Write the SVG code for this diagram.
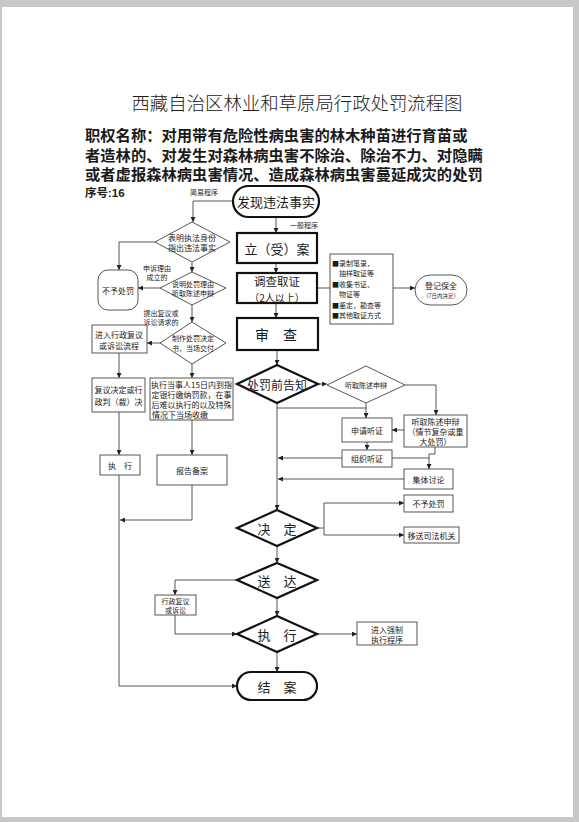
<svg xmlns="http://www.w3.org/2000/svg" width="579" height="822" viewBox="0 0 579 822">
<defs>
<marker id="arr" viewBox="0 0 10 10" refX="10" refY="5" markerWidth="5" markerHeight="5" markerUnits="userSpaceOnUse" orient="auto">
<path d="M0,0 L10,5 L0,10 z" fill="#222"/>
</marker>
</defs>
<style>
text{font-family:"Noto Sans CJK SC","Noto Sans",sans-serif;fill:#1a1a1a;text-anchor:middle;dominant-baseline:central}
.thick{fill:#fff;stroke:#111;stroke-width:2.2}
.thin{fill:#fff;stroke:#444;stroke-width:0.9}
.con path{fill:none;stroke:#444;stroke-width:0.9}
.con .a{marker-end:url(#arr)}
.s7{font-size:7px}
.s8{font-size:8px}
.s13{font-size:13px}
.hd{font-family:"Liberation Sans","Noto Sans CJK SC",sans-serif;font-weight:bold;text-anchor:start;dominant-baseline:auto}
</style>
<rect x="0" y="0" width="579" height="822" fill="#c8c8c8"/>
<rect x="2" y="7" width="571" height="810" fill="#fff"/>

<g id="title">
<text x="297" y="102" style="font-size:18.4px;font-weight:300">西藏自治区林业和草原局行政处罚流程图</text>
<text class="hd" style="font-size:15.3px"><tspan x="85" y="141">职权名称：对用带有危险性病虫害的林木种苗进行育苗或</tspan><tspan x="85" y="160.5">者造林的、对发生对森林病虫害不除治、除治不力、对隐瞒</tspan><tspan x="85" y="180">或者虚报森林病虫害情况、造成森林病虫害蔓延成灾的处罚</tspan></text>
<text class="hd" x="85" y="197" style="font-size:11.5px">序号:16</text>
</g>

<g class="con">
<path class="a" d="M233,201 H193 V222"/>
<path class="a" d="M276,217 V233"/>
<path class="a" d="M276,263 V273"/>
<path class="a" d="M276,303 V318"/>
<path d="M317,288 H330"/>
<path class="a" d="M393,288 H415"/>
<path class="a" d="M155,242 H119 V270"/>
<path class="a" d="M192,262 V272"/>
<path class="a" d="M160,288 H138"/>
<path class="a" d="M192,305 V322"/>
<path class="a" d="M160,343 H147"/>
<path class="a" d="M119,353 V378"/>
<path class="a" d="M192,364 V378"/>
<path class="a" d="M119,412 V455"/>
<path class="a" d="M192,420 V455"/>
<path class="a" d="M277,350 V365"/>
<path class="a" d="M318,384 H327"/>
<path class="a" d="M405,385 H436 V415"/>
<path d="M366,403 V408"/>
<path class="a" d="M277,408 H366 V418"/>
<path class="a" d="M404,430 H392"/>
<path class="a" d="M367,442 V450"/>
<path class="a" d="M342,458 H278"/>
<path d="M392,458 H429"/>
<path class="a" d="M435,447 V454 H429 V469"/>
<path class="a" d="M404,479 H278"/>
<path class="a" d="M277,403 V510"/>
<path d="M317,528 H324 M324,503 V535"/>
<path class="a" d="M324,503 H404"/>
<path class="a" d="M324,535 H404"/>
<path class="a" d="M277,546 V563"/>
<path class="a" d="M237,580 H175 V595"/>
<path class="a" d="M277,598 V616"/>
<path class="a" d="M175,615 V634 H237"/>
<path class="a" d="M317,634 H357"/>
<path class="a" d="M277,652 V672"/>
<path class="a" d="M119,475 V686 H237"/>
<path class="a" d="M192,485 V520 H120"/>
</g>

<g id="labels">
<text class="s7" x="204" y="192">简易程序</text>
<text class="s7" x="304" y="225">一般程序</text>
<text class="s7"><tspan x="157" y="268">申诉理由</tspan><tspan x="157" y="277">成立的</tspan></text>
<text class="s7"><tspan x="161" y="313">提出复议或</tspan><tspan x="161" y="322">诉讼请求的</tspan></text>
</g>

<g id="n-faxian">
<rect class="thick" x="233" y="186" width="86" height="31" rx="15.5"/>
<text class="s13" x="276" y="201.5">发现违法事实</text>
</g>
<g id="n-lian">
<rect class="thick" x="237" y="233" width="80" height="30"/>
<text class="s13" x="277" y="248">立（受）案</text>
</g>
<g id="n-diaocha">
<rect class="thick" x="237" y="273" width="80" height="30"/>
<text style="font-size:11.5px"><tspan x="277" y="280.5">调查取证</tspan><tspan x="277" y="296.5" style="font-size:10px">（2人以上）</tspan></text>
</g>
<g id="n-shencha">
<rect class="thick" x="237" y="318" width="81" height="32"/>
<text style="font-size:14px" x="276" y="334">审　查</text>
</g>
<g id="n-quzheng">
<rect class="thin" x="330" y="254" width="63" height="70"/>
<text class="s7" style="text-anchor:start"><tspan x="332" y="263">■录制笔录，</tspan><tspan x="332" y="273">　抽样取证等</tspan><tspan x="332" y="284">■收集书证、</tspan><tspan x="332" y="294">　物证等</tspan><tspan x="332" y="305">■鉴定，勘查等</tspan><tspan x="332" y="315">■其他取证方式</tspan></text>
</g>
<g id="n-dengji">
<rect class="thin" x="415" y="275" width="52" height="30" rx="15"/>
<text class="s8"><tspan x="441" y="285">登记保全</tspan><tspan x="441" y="296" style="font-size:5.5px">（7日内决定）</tspan></text>
</g>
<g id="n-biaoming">
<polygon class="thin" points="192,222 230,242 192,262 155,242"/>
<text class="s8"><tspan x="192" y="237">表明执法身份</tspan><tspan x="192" y="247">指出违法事实</tspan></text>
</g>
<g id="n-shuoming">
<polygon class="thin" points="192,272 226,288 192,305 160,288"/>
<text class="s7"><tspan x="193" y="284">说明处罚理由</tspan><tspan x="193" y="293">听取陈述申辩</tspan></text>
</g>
<g id="n-buyu1">
<rect class="thin" x="98" y="270" width="40" height="40" rx="10"/>
<text class="s8" x="118" y="290">不予处罚</text>
</g>
<g id="n-zhizuo">
<polygon class="thin" points="192,322 226,343 192,364 160,343"/>
<text class="s7"><tspan x="193" y="338">制作处罚决定</tspan><tspan x="193" y="348">书，当场交付</tspan></text>
</g>
<g id="n-jinru">
<rect class="thin" x="92" y="325" width="55" height="28"/>
<text class="s8"><tspan x="119" y="334">进入行政复议</tspan><tspan x="119" y="345">或诉讼流程</tspan></text>
</g>
<g id="n-fuyi">
<rect class="thin" x="92" y="378" width="53" height="34"/>
<text class="s8"><tspan x="118.5" y="389">复议决定或行</tspan><tspan x="118.5" y="401">政判（裁）决</tspan></text>
</g>
<g id="n-zhixingdsr">
<rect class="thin" x="150" y="378" width="83" height="42"/>
<text class="s8"><tspan x="191.5" y="384">执行当事人15日内到指</tspan><tspan x="191.5" y="394">定银行缴纳罚款，在事</tspan><tspan x="191.5" y="404">后难以执行的以及特殊</tspan><tspan x="152" y="414" style="text-anchor:start">情况下当场收缴</tspan></text>
</g>
<g id="n-zhixing-left">
<rect class="thin" x="100" y="455" width="40" height="20"/>
<text class="s8" x="120" y="465">执　行</text>
</g>
<g id="n-baogao">
<rect class="thin" x="157" y="455" width="70" height="30"/>
<text class="s8" x="192" y="470">报告备案</text>
</g>
<g id="n-gaozhi">
<polygon class="thick" points="277,365 318,384 277,403 237,384"/>
<text style="font-size:12px" x="277" y="384">处罚前告知</text>
</g>
<g id="n-tingqu-d">
<polygon class="thin" points="366,366 405,385 366,403 327,385"/>
<text class="s7" x="366" y="385">听取陈述申辩</text>
</g>
<g id="n-shenqing">
<rect class="thin" x="342" y="418" width="50" height="24"/>
<text class="s8" x="367" y="430">申请听证</text>
</g>
<g id="n-tingqu-b">
<rect class="thin" x="404" y="415" width="63" height="32"/>
<text class="s8"><tspan x="435.5" y="421">听取陈述申辩</tspan><tspan x="435.5" y="431">（情节复杂或重</tspan><tspan x="435.5" y="441">大处罚）</tspan></text>
</g>
<g id="n-zuzhi">
<rect class="thin" x="342" y="450" width="50" height="17"/>
<text class="s8" x="367" y="458.5">组织听证</text>
</g>
<g id="n-jiti">
<rect class="thin" x="404" y="469" width="49" height="20"/>
<text class="s8" x="428.5" y="479">集体讨论</text>
</g>
<g id="n-jueding">
<polygon class="thick" points="277,510 317,528 277,546 237,528"/>
<text class="s13" x="277" y="528">决　定</text>
</g>
<g id="n-buyu2">
<rect class="thin" x="404" y="495" width="49" height="17"/>
<text class="s8" x="428.5" y="503.5">不予处罚</text>
</g>
<g id="n-yisong">
<rect class="thin" x="404" y="527" width="55" height="16"/>
<text class="s8" x="431.5" y="535">移送司法机关</text>
</g>
<g id="n-songda">
<polygon class="thick" points="277,563 317,580 277,598 237,580"/>
<text class="s13" x="277" y="580">送　达</text>
</g>
<g id="n-fuyisusong">
<rect class="thin" x="155" y="595" width="41" height="20"/>
<text class="s7"><tspan x="175.5" y="600.5">行政复议</tspan><tspan x="175.5" y="609.5">或诉讼</tspan></text>
</g>
<g id="n-zhixing">
<polygon class="thick" points="277,616 317,634 277,652 237,634"/>
<text class="s13" x="277" y="634">执　行</text>
</g>
<g id="n-qiangzhi">
<rect class="thin" x="357" y="622" width="60" height="23"/>
<text class="s8"><tspan x="387" y="628.5">进入强制</tspan><tspan x="387" y="638.5">执行程序</tspan></text>
</g>
<g id="n-jiean">
<rect class="thick" x="237" y="672" width="80" height="28" rx="14"/>
<text class="s13" x="277" y="686">结　案</text>
</g>
</svg>
